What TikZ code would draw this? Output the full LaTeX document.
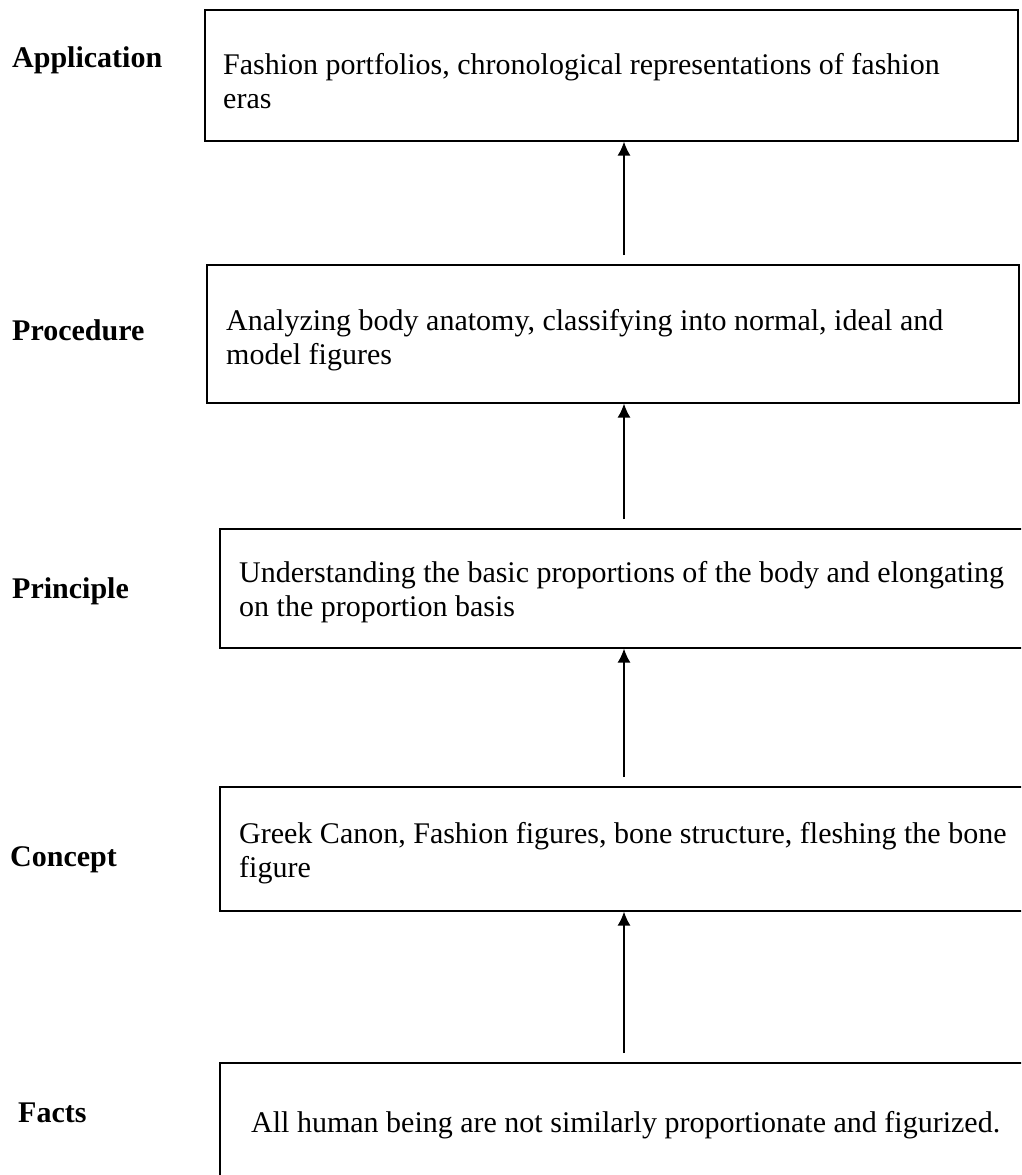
\documentclass[tikz,border=0pt]{standalone}
\usepackage{fontspec}
\setmainfont{Liberation Serif}
\usetikzlibrary{arrows.meta,positioning}
\tikzset{
  >=Latex,
  stagebox/.style={draw=black,line width=1.6pt,anchor=north west,inner sep=0pt},
  stagetext/.style={anchor=north west,align=left,inner sep=0pt,font=\fontsize{30}{34}\selectfont},
  levellabel/.style={anchor=base west,inner sep=0pt,font=\fontsize{30}{34}\selectfont\bfseries},
  up/.style={-{Latex[length=14pt,width=13pt]},line width=1.5pt}
}
\begin{document}
\begin{tikzpicture}[x=1pt,y=-1pt]
  \clip (0,0) rectangle (1021,1175);
  \coordinate (axis) at (624,0);
  % boxes
  \node[stagebox,minimum width=813pt,minimum height=131pt] (app) at (204,9) {};
  \node[stagebox,minimum width=812pt,minimum height=138pt] (proc) at (206,264) {};
  \node[stagebox,minimum width=820pt,minimum height=119pt] (prin) at (219,528) {};
  \node[stagebox,minimum width=820pt,minimum height=124pt] (conc) at (219,786) {};
  \node[stagebox,minimum width=820pt,minimum height=140pt] (fact) at (219,1062) {};
  % box texts
  \node[stagetext] (apptxt) at (223,53) {Fashion portfolios, chronological representations of fashion\\eras};
  \node[stagetext] (proctxt) at (226,309) {Analyzing body anatomy, classifying into normal, ideal and\\model figures};
  \node[stagetext] (printxt) at (239,561) {Understanding the basic proportions of the body and elongating\\on the proportion basis};
  \node[stagetext] (conctxt) at (239,822) {Greek Canon, Fashion figures, bone structure, fleshing the bone\\figure};
  \node[stagetext] (facttxt) at (251,1111) {All human being are not similarly proportionate and figurized.};
  % level labels
  \node[levellabel] (lapp) at (12,67) {Application};
  \node[levellabel] (lproc) at (12,340) {Procedure};
  \node[levellabel] (lprin) at (12,598) {Principle};
  \node[levellabel] (lconc) at (10,866) {Concept};
  \node[levellabel] (lfact) at (18,1122) {Facts};
  % arrows
  \draw[up] ([yshift=9pt]proc.north -| axis) -- (app.south -| axis);
  \draw[up] ([yshift=9pt]prin.north -| axis) -- (proc.south -| axis);
  \draw[up] ([yshift=9pt]conc.north -| axis) -- (prin.south -| axis);
  \draw[up] ([yshift=9pt]fact.north -| axis) -- (conc.south -| axis);
\end{tikzpicture}
\end{document}
